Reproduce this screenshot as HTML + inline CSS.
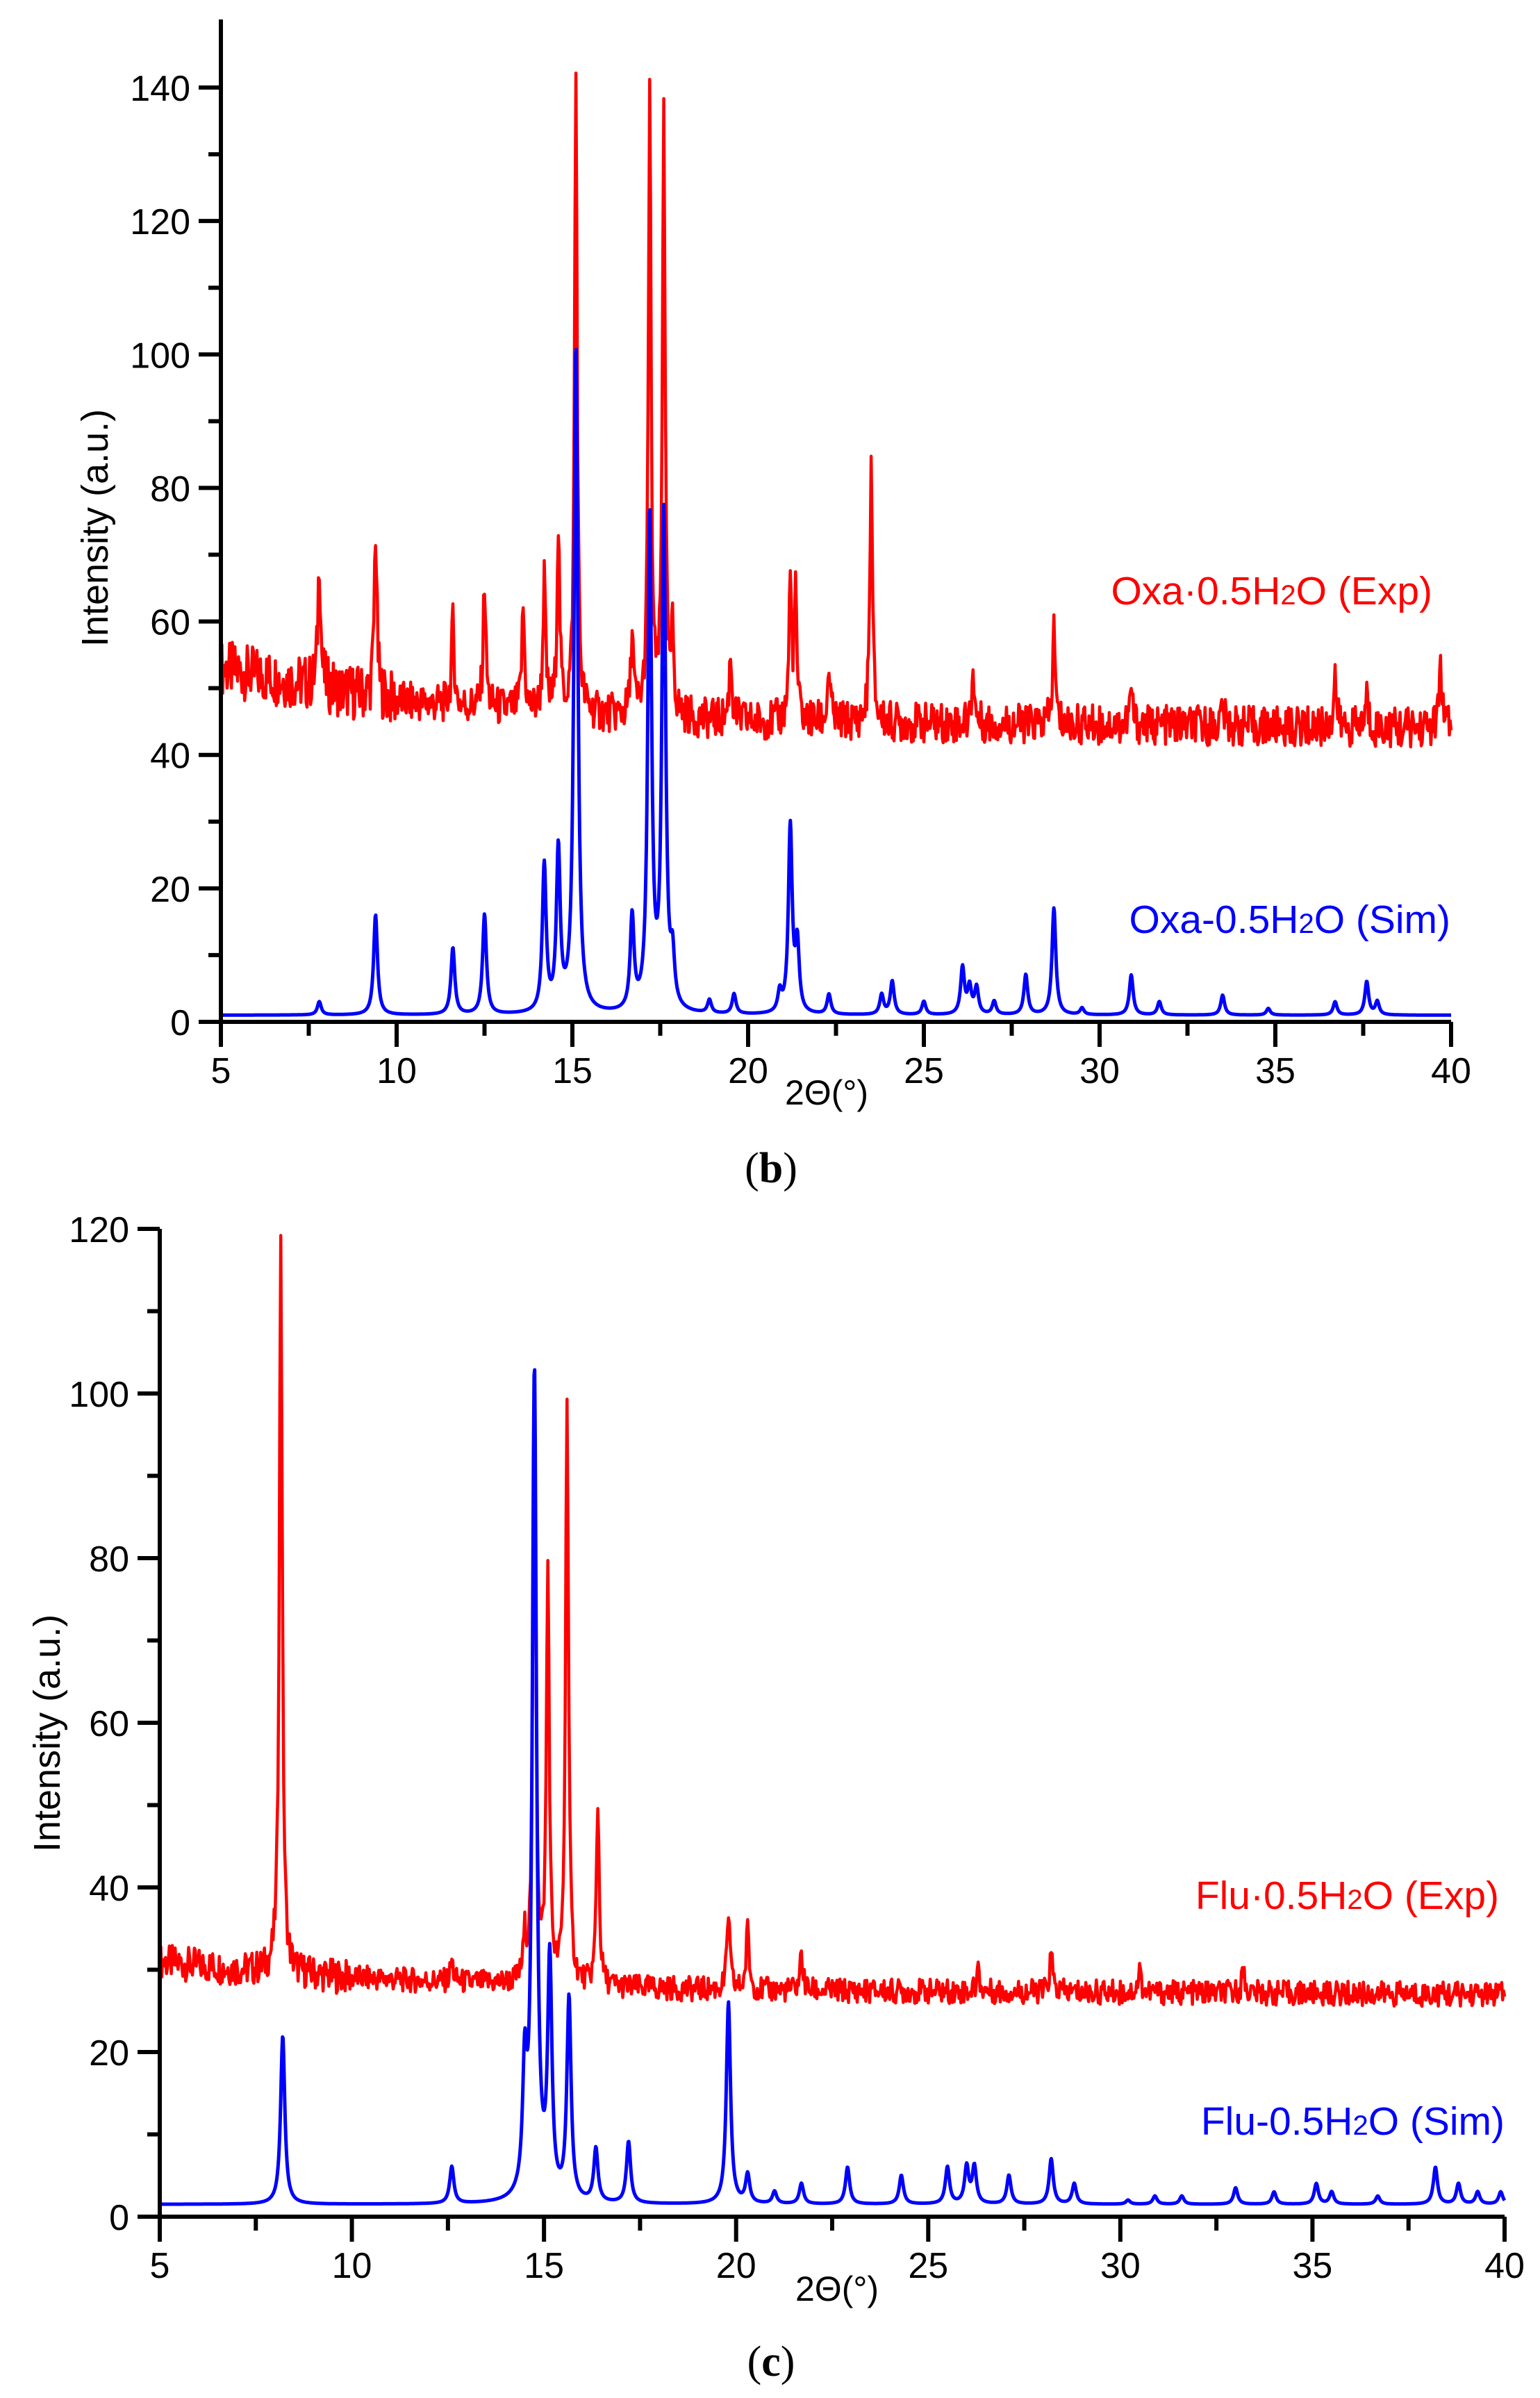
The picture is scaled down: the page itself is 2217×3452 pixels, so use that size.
<!DOCTYPE html>
<html><head><meta charset="utf-8"><style>
html,body{margin:0;padding:0;background:#fff;}
svg{display:block;}
text{font-family:"Liberation Sans",Arial,sans-serif;}
</style></head><body>
<svg id="fig" width="2217" height="3452" viewBox="0 0 2217 3452" xmlns="http://www.w3.org/2000/svg">
<rect x="0" y="0" width="2217" height="3452" fill="#fff"/>
<g id="chartB"></g>
<g id="chartC"></g>
<text x="1110" y="1702" text-anchor="middle" font-size="62" style="font-family:'Liberation Serif',serif">(<tspan font-weight="bold">b</tspan>)</text>
<text x="1110" y="3420" text-anchor="middle" font-size="62" style="font-family:'Liberation Serif',serif">(<tspan font-weight="bold">c</tspan>)</text>
</svg>
<script>
// ---- Chart (b) data ----
const bXTicks = [5,10,15,20,25,30,35,40];
const bYTicks = [0,20,40,60,80,100,120,140];
const bExpBaseX = [5,7,10,15,20,40];
const bExpBaseY = [53,51,48,46,45,44];
const bExpPeakPos = [7.8,9.4,11.6,12.5,13.6,14.2,14.6,15.1,16.7,17.2,17.6,17.85,19.5,21.2,21.35,22.3,23.5,26.4,28.7,30.9,33.5,36.7,37.6,39.7];
const bExpPeakHt  = [70,74,60,66,62,66,74,142,58,140,138,57,55,66,63,53,83,53,59,50,48,52,49,54];
const bSimBase = 1;
const bSimPeakPos = [7.8,9.4,11.6,12.5,14.2,14.6,15.1,16.7,17.2,17.6,17.85,18.9,19.6,20.9,21.2,21.4,22.3,23.8,24.1,25.0,26.1,26.3,26.5,27.0,27.9,28.7,29.5,30.9,31.7,33.5,34.8,36.7,37.6,37.9];
const bSimPeakHt  = [3,16,11,16,23,25,101,15,75,75,8,3,4,4,29,11,4,4,6,3,8,5,5,3,7,17,2,7,3,4,2,3,6,3];
// ---- Chart (c) data ----
const cXTicks = [5,10,15,20,25,30,35,40];
const cYTicks = [0,20,40,60,80,100,120];
const cExpBaseX = [5,7,10,15,20,40];
const cExpBaseY = [31,30,29,28,27.5,27];
const cExpPeakPos = [8.15,12.6,14.5,14.75,15.1,15.6,16.4,19.8,20.3,21.7,26.3,28.2,30.5,33.2];
const cExpPeakHt  = [120,31,33,101,78,100,50,37,35,32,30,32,30,30];
const cSimBase = 1.5;
const cSimPeakPos = [8.2,12.6,14.5,14.75,15.15,15.65,16.35,17.2,19.8,20.3,21.0,21.7,22.9,24.3,25.5,26.0,26.2,27.1,28.2,28.8,30.2,30.9,31.6,33.0,34.0,35.1,35.5,36.7,38.2,38.8,39.3,39.9];
const cSimPeakHt  = [22,6,16,102,30,26,8,9,26,5,3,4,6,5,6,6,6,5,7,4,2,2.5,2.5,3.5,3,4,3,2.5,6,4,3,3];

const NS="http://www.w3.org/2000/svg";
function mk(tag,attrs,parent){const e=document.createElementNS(NS,tag);for(const k in attrs)e.setAttribute(k,attrs[k]);parent.appendChild(e);return e;}
function interp(xs,ys,x){if(x<=xs[0])return ys[0];for(let i=1;i<xs.length;i++){if(x<=xs[i]){const t=(x-xs[i-1])/(xs[i]-xs[i-1]);return ys[i-1]+t*(ys[i]-ys[i-1]);}}return ys[ys.length-1];}
function profile(x,base,pos,ht,w){let y=base;for(let i=0;i<pos.length;i++){const d=(x-pos[i])/w;y+=(ht[i]-base)/(1+d*d);}return y;}
function texture(i){const s=Math.sin(i*12.9898)*43758.5453;return s-Math.floor(s);}

function drawChart(g,cfg){
  const X=v=>cfg.x0+(v-cfg.xmin)/(cfg.xmax-cfg.xmin)*(cfg.x1-cfg.x0);
  const Y=v=>cfg.y0-(v-0)/(cfg.ymax)*(cfg.y0-cfg.y1);
  let dSim="",dExp="";
  const N=2400;
  for(let i=0;i<=N;i++){
    const xv=cfg.xmin+(cfg.xmax-cfg.xmin)*i/N;
    const ys=profile(xv,cfg.simBase,cfg.simPos,cfg.simHt,0.065);
    dSim+=(i?"L":"M")+X(xv).toFixed(1)+","+Y(ys).toFixed(1);
  }
  const N2=1400;
  for(let i=0;i<=N2;i++){
    const xv=cfg.xmin+(cfg.xmax-cfg.xmin)*i/N2;
    const b=interp(cfg.expBX,cfg.expBY,xv);
    const amp=cfg.noise*(xv<10?1.4:1);
    const ye=profile(xv,b,cfg.expPos,cfg.expHt,0.045)+(texture(i)-0.5)*amp;
    dExp+=(i?"L":"M")+X(xv).toFixed(1)+","+Y(ye).toFixed(1);
  }
  const pe=mk("path",{d:dExp,fill:"none",stroke:"#ff0000","stroke-width":4.5,"stroke-linejoin":"round"},g);
  
  
  const ps=mk("path",{d:dSim,fill:"none",stroke:"#0000ff","stroke-width":5,"stroke-linejoin":"round"},g);
  
  
  const ax=mk("path",{d:`M${cfg.x0},${cfg.yTop}L${cfg.x0},${cfg.y0+36}M${cfg.x0-30},${cfg.y0}L${cfg.x1},${cfg.y0}`,stroke:"#000","stroke-width":6,fill:"none"},g);
  
  
  let td="";
  cfg.xTicks.forEach(v=>{td+=`M${X(v)},${cfg.y0}L${X(v)},${cfg.y0+36}`;});
  for(let i=0;i<cfg.xTicks.length-1;i++){const m=(cfg.xTicks[i]+cfg.xTicks[i+1])/2;td+=`M${X(m)},${cfg.y0}L${X(m)},${cfg.y0+20}`;}
  cfg.yTicks.forEach(v=>{td+=`M${cfg.x0-32},${Y(v)}L${cfg.x0},${Y(v)}`;});
  for(let i=0;i<cfg.yTicks.length-1;i++){const m=(cfg.yTicks[i]+cfg.yTicks[i+1])/2;td+=`M${cfg.x0-18},${Y(m)}L${cfg.x0},${Y(m)}`;}
  const tk=mk("path",{d:td,stroke:"#000","stroke-width":6,fill:"none"},g);
  
  
  cfg.xTicks.forEach(v=>{
    const t=mk("text",{x:X(v),y:cfg.y0+88,"text-anchor":"middle","font-size":52,"font-family":"Liberation Sans, Arial, sans-serif"},g);
    t.textContent=v;
    
    
  });
  cfg.yTicks.forEach(v=>{
    const t=mk("text",{x:cfg.x0-44,y:Y(v)+19,"text-anchor":"end","font-size":52,"font-family":"Liberation Sans, Arial, sans-serif"},g);
    t.textContent=v;
    
    
  });
  const yt=mk("text",{x:0,y:0,"text-anchor":"middle","font-size":54,"font-family":"Liberation Sans, Arial, sans-serif",transform:`translate(${cfg.ytX},${cfg.ytY}) rotate(-90)`},g);
  yt.textContent="Intensity (a.u.)";
  
  
  const xt=mk("text",{x:cfg.xtX,y:cfg.xtY,"text-anchor":"middle","font-size":50,"font-family":"Liberation Sans, Arial, sans-serif"},g);
  xt.textContent="2Θ(°)";
  
  
  const le=mk("text",{x:cfg.leX,y:cfg.leY,"text-anchor":"end","font-size":57,fill:"#ff0000","font-family":"Liberation Sans, Arial, sans-serif"},g);
  le.innerHTML=cfg.name+"·0.5H<tspan font-size='40'>2</tspan>O (Exp)";
  
  
  const ls=mk("text",{x:cfg.lsX,y:cfg.lsY,"text-anchor":"end","font-size":57,fill:"#0000ff","font-family":"Liberation Sans, Arial, sans-serif"},g);
  ls.innerHTML=cfg.name+"-0.5H<tspan font-size='40'>2</tspan>O (Sim)";
  
  
}

drawChart(document.getElementById('chartB'),{
  x0:318,x1:2089,xmin:5,xmax:40,y0:1471,y1:126,ymax:140,yTop:28,
  xTicks:bXTicks,yTicks:bYTicks,
  expBX:bExpBaseX,expBY:bExpBaseY,expPos:bExpPeakPos,expHt:bExpPeakHt,noise:6,
  simBase:bSimBase,simPos:bSimPeakPos,simHt:bSimPeakHt,
  ytX:155,ytY:760,xtX:1190,xtY:1590,
  name:"Oxa",leX:2062,leY:870,lsX:2088,lsY:1343
});
drawChart(document.getElementById('chartC'),{
  x0:230,x1:2166,xmin:5,xmax:40,y0:3191,y1:1769,ymax:120,yTop:1769,
  xTicks:cXTicks,yTicks:cYTicks,
  expBX:cExpBaseX,expBY:cExpBaseY,expPos:cExpPeakPos,expHt:cExpPeakHt,noise:3,
  simBase:cSimBase,simPos:cSimPeakPos,simHt:cSimPeakHt,
  ytX:86,ytY:2495,xtX:1205,xtY:3312,
  name:"Flu",leX:2158,leY:2748,lsX:2166,lsY:3073
});
</script>
</body></html>
